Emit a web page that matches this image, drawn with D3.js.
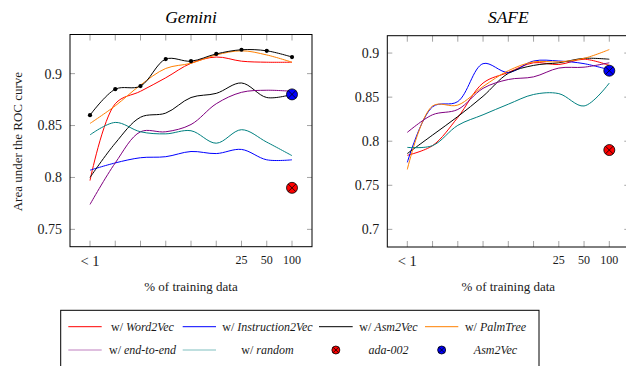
<!DOCTYPE html>
<html>
<head>
<meta charset="utf-8">
<script src="https://cdn.jsdelivr.net/npm/d3@7"></script>
<style>
  body { margin: 0; background: #fff; }
  svg { display: block; font-family: "Liberation Serif", "DejaVu Serif", serif; }
</style>
</head>
<body>
<svg id="chart" width="626" height="366"></svg>
<script>
// x positions are categorical (index 0..8), only some carry a label
const xLabels = ['< 1', '', '', '', '', '', '25', '50', '100'];

// Gemini
const gemWord2Vec = [0.797, 0.871, 0.883, 0.896, 0.910, 0.916, 0.912, 0.911, 0.911];
const gemInstruction2Vec = [0.807, 0.814, 0.819, 0.820, 0.825, 0.823, 0.827, 0.817, 0.817];
const gemAsm2Vec = [0.800, 0.833, 0.858, 0.862, 0.877, 0.881, 0.891, 0.877, 0.880];
const gemPalmTree = [0.852, 0.869, 0.889, 0.905, 0.910, 0.918, 0.922, 0.918, 0.911];
const gemEndToEnd = [0.774, 0.814, 0.844, 0.844, 0.851, 0.871, 0.882, 0.884, 0.883];
const gemRandom = [0.841, 0.853, 0.844, 0.842, 0.845, 0.833, 0.846, 0.834, 0.821];
const gemMarked = [0.860, 0.885, 0.888, 0.914, 0.912, 0.919, 0.923, 0.922, 0.916];
const gemAda = 0.790;
const gemAsm2VecBase = 0.880;

// SAFE
const safeWord2Vec = [0.784, 0.795, 0.827, 0.866, 0.878, 0.889, 0.887, 0.893, 0.886];
const safeInstruction2Vec = [0.776, 0.839, 0.845, 0.888, 0.878, 0.891, 0.891, 0.888, 0.881];
const safeAsm2Vec = [0.786, 0.807, 0.828, 0.851, 0.877, 0.886, 0.889, 0.894, 0.893];
const safePalmTree = [0.768, 0.840, 0.841, 0.862, 0.880, 0.890, 0.890, 0.894, 0.904];
const safeEndToEnd = [0.810, 0.830, 0.836, 0.860, 0.870, 0.873, 0.883, 0.884, 0.889];
const safeRandom = [0.793, 0.795, 0.818, 0.830, 0.842, 0.853, 0.854, 0.840, 0.866];
const safeAda = 0.790;
const safeAsm2VecBase = 0.880;

const lineNames = ['Word2Vec', 'Instruction2Vec', 'Asm2Vec', 'PalmTree', 'end-to-end', 'random'];
const lineColors = ['#ff0000', '#0000ff', '#000000', '#ff8000', '#800080', '#008080'];

const panels = [
  {
    title: 'Gemini', left: 70, right: 312, top: 34.5, bottom: 246.7,
    domain: [0.7333, 0.9377], ticks: [0.75, 0.8, 0.85, 0.9],
    lines: [gemWord2Vec, gemInstruction2Vec, gemAsm2Vec, gemPalmTree, gemEndToEnd, gemRandom],
    marked: gemMarked, ada: gemAda, base: gemAsm2VecBase
  },
  {
    title: 'SAFE', left: 387.3, right: 629.3, top: 35.7, bottom: 247,
    domain: [0.68, 0.9197], ticks: [0.7, 0.75, 0.8, 0.85, 0.9],
    lines: [safeWord2Vec, safeInstruction2Vec, safeAsm2Vec, safePalmTree, safeEndToEnd, safeRandom],
    marked: null, ada: safeAda, base: safeAsm2VecBase
  }
];

const svg = d3.select('#chart');
const tickColor = '#9a9a9a';
const textColor = '#1a1a1a';

/** circle with a cross, like pgf's otimes* */
function otimes(g, cx, cy, r, fill) {
  g.append('circle').attr('cx', cx).attr('cy', cy).attr('r', r)
    .attr('fill', fill).attr('stroke', '#000').attr('stroke-width', 0.8);
  const k = r * 0.7071;
  g.append('path')
    .attr('d', `M${cx - k},${cy - k}L${cx + k},${cy + k}M${cx - k},${cy + k}L${cx + k},${cy - k}`)
    .attr('stroke', '#000').attr('stroke-width', 0.8);
}

panels.forEach((p, pi) => {
  const x = d3.scaleLinear().domain([0, xLabels.length - 1]).range([p.left + 20, p.right - 20]);
  const y = d3.scaleLinear().domain(p.domain).range([p.bottom, p.top]);
  const g = svg.append('g');
  const cx = (p.left + p.right) / 2;

  /** Title */
  g.append('text').attr('x', cx).attr('y', 23).attr('text-anchor', 'middle')
    .attr('font-size', 17.5).attr('font-style', 'italic').text(p.title);

  /** Ticks (inward, on all sides) */
  const tk = g.append('g').attr('stroke', tickColor).attr('stroke-width', 0.9);
  xLabels.forEach((l, i) => {
    tk.append('line').attr('x1', x(i)).attr('x2', x(i)).attr('y1', p.top).attr('y2', p.top + 6);
    tk.append('line').attr('x1', x(i)).attr('x2', x(i)).attr('y1', p.bottom).attr('y2', p.bottom - 6);
  });
  p.ticks.forEach(t => {
    tk.append('line').attr('x1', p.left).attr('x2', p.left + 5).attr('y1', y(t)).attr('y2', y(t));
    tk.append('line').attr('x1', p.right).attr('x2', p.right - 5).attr('y1', y(t)).attr('y2', y(t));
  });

  /** Tick labels */
  g.selectAll('.ylab').data(p.ticks).join('text')
    .attr('x', p.left - 8).attr('y', d => y(d)).attr('dy', '0.35em')
    .attr('text-anchor', 'end').attr('font-size', 14).attr('fill', textColor)
    .text(d => String(d));
  g.selectAll('.xlab').data(xLabels).join('text')
    .attr('x', (d, i) => x(i)).attr('y', (d, i) => (i === 0 ? 265.5 : 263.5))
    .attr('text-anchor', 'middle').attr('font-size', (d, i) => (i === 0 ? 14.5 : 12)).attr('fill', textColor)
    .text(d => d);

  /** Axis titles */
  g.append('text').attr('x', cx).attr('y', 291).attr('text-anchor', 'middle')
    .attr('font-size', 13).attr('fill', textColor).text('% of training data');
  if (pi === 0) {
    g.append('text').attr('transform', `translate(22,${(p.top + p.bottom) / 2 + 1}) rotate(-90)`)
      .attr('text-anchor', 'middle').attr('font-size', 13).attr('fill', textColor)
      .text('Area under the ROC curve');
  }

  /** Series */
  const line = d3.line().x((d, i) => x(i)).y(d => y(d)).curve(d3.curveCatmullRom.alpha(0.5));
  p.lines.forEach((vals, si) => {
    g.append('path').attr('d', line(vals)).attr('fill', 'none')
      .attr('stroke', lineColors[si]).attr('stroke-width', 1);
  });
  if (p.marked) {
    g.append('path').attr('d', line(p.marked)).attr('fill', 'none')
      .attr('stroke', '#000').attr('stroke-width', 1);
    g.selectAll('.dot').data(p.marked).join('circle')
      .attr('cx', (d, i) => x(i)).attr('cy', d => y(d)).attr('r', 2.1).attr('fill', '#000');
  }
  const last = xLabels.length - 1;
  otimes(g, x(last), y(p.ada), 5.5, '#ff0000');
  otimes(g, x(last), y(p.base), 5.5, '#0000ff');

  /** Box */
  g.append('rect').attr('x', p.left).attr('y', p.top)
    .attr('width', p.right - p.left).attr('height', p.bottom - p.top)
    .attr('fill', 'none').attr('stroke', '#000').attr('stroke-width', 1);
});

/** Legend */
const lg = svg.append('g');
lg.append('rect').attr('x', 60.7).attr('y', 310.3).attr('width', 478.3).attr('height', 60)
  .attr('fill', 'none').attr('stroke', '#000').attr('stroke-width', 1);
const markCols = [[68.3, 101.7], [182.7, 216], [319, 352.7], [425, 458.3]];
const textCols = [142.5, 267.5, 388.5, 495.5];
const rowY = [326.7, 350];
const legendItems = [
  ...lineNames.map((n, i) => ({ pre: 'w/ ', name: n, color: lineColors[i], light: i >= 4 })),
  { pre: '', name: 'ada-002', color: '#ff0000', marker: true },
  { pre: '', name: 'Asm2Vec', color: '#0000ff', marker: true }
];
legendItems.forEach((it, k) => {
  const col = k % 4, row = Math.floor(k / 4);
  const yy = rowY[row];
  const [a, b] = markCols[col];
  if (it.marker) {
    otimes(lg, (a + b) / 2, yy, 4, it.color);
  } else {
    lg.append('line').attr('x1', a).attr('x2', b).attr('y1', yy).attr('y2', yy)
      .attr('stroke', it.color).attr('stroke-width', 1)
      .attr('stroke-opacity', it.light ? 0.5 : 1);
  }
  const t = lg.append('text').attr('x', textCols[col]).attr('y', yy).attr('dy', '0.32em')
    .attr('text-anchor', 'middle').attr('font-size', 12).attr('fill', textColor);
  if (it.pre) t.append('tspan').text(it.pre);
  t.append('tspan').attr('font-style', 'italic').text(it.name);
});
</script>
</body>
</html>
